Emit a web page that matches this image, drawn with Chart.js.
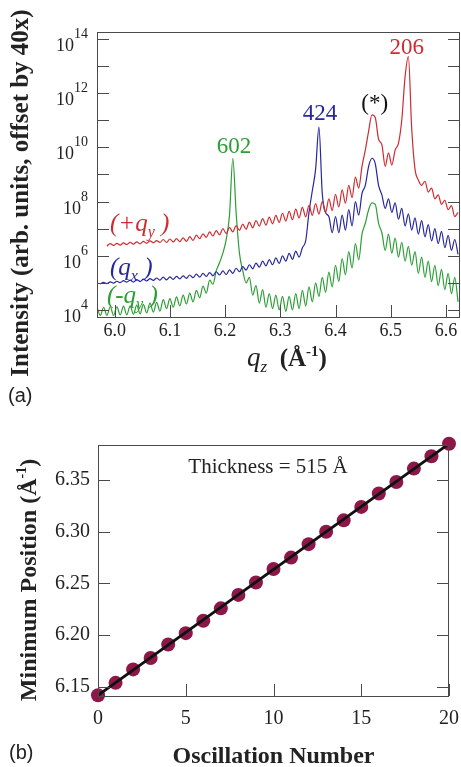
<!DOCTYPE html>
<html>
<head>
<meta charset="utf-8">
<script src="https://cdn.jsdelivr.net/npm/chart.js@4.4.0/dist/chart.umd.min.js"></script>
<style>
  html, body { margin: 0; padding: 0; background: #fff; }
  body { width: 461px; height: 767px; position: relative; overflow: hidden; }
  #boxA { position: absolute; left: 0; top: 0; }
  #boxB { position: absolute; left: 0; top: 400px; }
  .tag { position: absolute; font-family: "Liberation Sans", Arial, sans-serif; font-size: 20px; color: #222; line-height: 1; }
</style>
</head>
<body>
<canvas id="boxA" width="461" height="400"></canvas>
<canvas id="boxB" width="461" height="367"></canvas>
<div class="tag" style="left:8px;top:385px;">(a)</div>
<div class="tag" style="left:9px;top:742px;">(b)</div>
<script>
// ---- panel (a): qz grid and log10 intensities ----
const qz = [
  5.968, 5.974, 5.980, 5.986, 5.992, 5.998, 6.004, 6.010, 6.016, 6.022,
  6.028, 6.034, 6.040, 6.046, 6.052, 6.058, 6.064, 6.070, 6.076, 6.082,
  6.088, 6.094, 6.100, 6.106, 6.112, 6.118, 6.124, 6.130, 6.136, 6.142,
  6.148, 6.154, 6.160, 6.166, 6.172, 6.178, 6.184, 6.190, 6.196, 6.202,
  6.208, 6.214, 6.220, 6.226, 6.232, 6.238, 6.244, 6.250, 6.256, 6.262,
  6.268, 6.274, 6.280, 6.286, 6.292, 6.298, 6.304, 6.310, 6.316, 6.322,
  6.328, 6.334, 6.340, 6.346, 6.352, 6.358, 6.364, 6.370, 6.376, 6.382,
  6.388, 6.394, 6.400, 6.406, 6.412, 6.418, 6.424, 6.430, 6.436, 6.442,
  6.448, 6.454, 6.460, 6.466, 6.472, 6.478, 6.484, 6.490, 6.496, 6.502,
  6.508, 6.514, 6.520, 6.526, 6.532, 6.538, 6.544, 6.550, 6.556, 6.562,
  6.568, 6.574, 6.580, 6.586, 6.592, 6.598, 6.604, 6.610, 6.616, 6.622
];

// (+q_y), red
const plusQyLog = [
  null, null, null, 6.36, 6.45, 6.38, 6.46, 6.39, 6.48, 6.41,
  6.50, 6.43, 6.51, 6.44, 6.53, 6.46, 6.55, 6.48, 6.56, 6.49,
  6.60, 6.49, 6.62, 6.51, 6.63, 6.52, 6.66, 6.53, 6.71, 6.57,
  6.76, 6.63, 6.81, 6.68, 6.88, 6.73, 6.93, 6.77, 7.00, 6.82,
  7.05, 6.88, 7.11, 6.94, 7.17, 6.98, 7.24, 7.03, 7.30, 7.09,
  7.37, 7.13, 7.43, 7.18, 7.49, 7.23, 7.57, 7.28, 7.64, 7.33,
  7.72, 7.39, 7.79, 7.44, 7.86, 7.49, 7.93, 7.54, 8.00, 7.60,
  8.10, 7.67, 8.27, 7.80, 8.43, 7.94, 8.60, 8.15, 8.90, 8.50,
  9.30, 9.90, 10.60, 11.20, 11.10, 10.30, 10.10, 9.30, 9.80, 9.35,
  9.90, 10.15, 11.00, 12.60, 13.35, 10.70, 9.20, 8.80, 8.60, 8.75,
  8.35, 8.50, 8.10, 8.25, 7.90, 8.05, 7.70, 7.85, 7.45, 7.60
];

// (q_x), blue
const qxLog = [
  null, 4.96, 5.02, 4.97, 5.04, 4.99, 5.06, 5.01, 5.08, 5.03,
  5.10, 5.03, 5.12, 5.05, 5.14, 5.07, 5.16, 5.09, 5.18, 5.10,
  5.21, 5.11, 5.22, 5.13, 5.24, 5.15, 5.26, 5.17, 5.29, 5.19,
  5.32, 5.21, 5.35, 5.24, 5.38, 5.26, 5.41, 5.29, 5.44, 5.31,
  5.48, 5.35, 5.54, 5.41, 5.60, 5.47, 5.67, 5.52, 5.73, 5.58,
  5.80, 5.63, 5.86, 5.67, 5.92, 5.72, 6.00, 5.80, 6.09, 5.87,
  6.17, 5.95, 6.30, 6.55, 7.60, 8.40, 9.20, 10.75, 8.30, 7.60,
  7.45, 6.85, 7.45, 6.85, 7.50, 6.95, 7.70, 7.10, 8.00, 7.50,
  8.30, 8.60, 9.30, 9.60, 9.40, 8.60, 8.25, 7.75, 8.10, 7.60,
  7.95, 7.35, 7.75, 7.10, 7.55, 6.95, 7.40, 6.80, 7.30, 6.70,
  7.15, 6.55, 7.00, 6.45, 6.90, 6.30, 6.75, 6.20, 6.60, 6.05
];

// (-q_y), green
const minusQyLog = [
  4.10, 3.80, 4.10, 3.80, 4.12, 3.80, 4.12, 3.82, 4.14, 3.82,
  4.15, 3.84, 4.18, 3.86, 4.21, 3.89, 4.25, 3.92, 4.28, 3.96,
  4.38, 4.05, 4.42, 4.10, 4.48, 4.15, 4.55, 4.22, 4.62, 4.30,
  4.72, 4.45, 4.88, 4.62, 5.10, 4.95, 5.45, 5.75, 6.10, 6.60,
  7.50, 9.60, 7.60, 6.10, 5.45, 5.00, 5.20, 4.55, 4.90, 4.25,
  4.75, 4.10, 4.60, 4.05, 4.55, 4.00, 4.50, 3.95, 4.50, 4.00,
  4.60, 4.05, 4.72, 4.15, 4.85, 4.30, 5.00, 4.50, 5.20, 4.65,
  5.40, 4.85, 5.65, 5.05, 5.90, 5.30, 6.15, 5.55, 6.45, 5.85,
  6.80, 7.20, 7.70, 7.95, 7.90, 7.20, 6.85, 6.20, 6.80, 6.10,
  6.65, 5.95, 6.50, 5.80, 6.35, 5.65, 6.15, 5.35, 5.95, 5.20,
  5.80, 5.05, 5.65, 4.90, 5.50, 4.75, 5.35, 4.60, 5.20, 4.30
];

const decadeTicks = [4, 5, 6, 7, 8, 9, 10, 11, 12, 13, 14];
const labelledDecades = [4, 6, 8, 10, 12, 14];
const qzTicks = [6.0, 6.1, 6.2, 6.3, 6.4, 6.5, 6.6];

const peakNames = ["602", "424", "(*)", "206"];
const peakQ = [6.216, 6.372, 6.471, 6.529];
const peakLog = [9.79, 11.01, 11.38, 13.45];

const curveNames = ["+", "", "-"];
const curveSub = ["y", "x", "y"];
const curveNameQ = [5.9915, 5.9915, 5.986];
const curveNameLog = [6.915, 5.291, 4.258];

// ---- panel (b) ----
const oscNumber = [0, 1, 2, 3, 4, 5, 6, 7, 8, 9, 10, 11, 12, 13, 14, 15, 16, 17, 18, 19, 20];
const minPosition = [6.142, 6.154, 6.167, 6.178, 6.191, 6.202, 6.214, 6.226, 6.239, 6.251,
                     6.264, 6.275, 6.288, 6.300, 6.311, 6.324, 6.337, 6.348, 6.361, 6.373, 6.385];
const fitNumber = [0, 20];
const fitPosition = [6.142, 6.385];
const posTicks = [6.15, 6.20, 6.25, 6.30, 6.35];
const numTicks = [0, 5, 10, 15, 20];

const RED = "#cf2b31", BLUE = "#26279e", GREEN = "#2c9e35";
const curveColors = [RED, BLUE, GREEN];
const peakColors = [GREEN, BLUE, "#111", RED];
const AXIS = "#4a4a4a";
const SERIF = '"Liberation Serif", "Times New Roman", serif';

function toPoints(xs, logs) {
  return xs.map((x, i) => logs[i] == null ? null : { x: x, y: Math.pow(10, logs[i]) })
           .filter(p => p);
}

function drawRuns(ctx, runs, x, y, align) {
  let total = 0;
  runs.forEach(r => { ctx.font = r.font; r.w = ctx.measureText(r.text).width; total += r.w; });
  let cx = align === "center" ? x - total / 2 : (align === "right" ? x - total : x);
  ctx.textAlign = "left";
  runs.forEach(r => {
    ctx.font = r.font;
    ctx.fillText(r.text, cx, y + (r.dy || 0));
    cx += r.w;
  });
}

function frame(ctx, a) {
  ctx.save();
  ctx.strokeStyle = AXIS;
  ctx.lineWidth = 1;
  ctx.strokeRect(Math.round(a.left) + 0.5, Math.round(a.top) + 0.5,
                 Math.round(a.right - a.left) - 1, Math.round(a.bottom - a.top));
  ctx.restore();
}

const panelA = {
  id: "panelA",
  afterDraw(chart) {
    const ctx = chart.ctx, a = chart.chartArea;
    const xs = chart.scales.x, ys = chart.scales.y;
    frame(ctx, a);
    ctx.save();
    ctx.strokeStyle = AXIS;
    ctx.lineWidth = 1;
    ctx.beginPath();
    decadeTicks.forEach(d => {
      const y = Math.round(ys.getPixelForValue(Math.pow(10, d))) + 0.5;
      ctx.moveTo(a.left, y); ctx.lineTo(a.left + 12, y);
      ctx.moveTo(a.right - 12, y); ctx.lineTo(a.right, y);
    });
    qzTicks.forEach(q => {
      const x = Math.round(xs.getPixelForValue(q)) + 0.5;
      ctx.moveTo(x, a.bottom); ctx.lineTo(x, a.bottom - 12);
    });
    ctx.stroke();

    ctx.fillStyle = "#222";
    labelledDecades.forEach(d => {
      const y = ys.getPixelForValue(Math.pow(10, d));
      drawRuns(ctx, [
        { text: "10", font: "18px " + SERIF, dy: 12 },
        { text: String(d), font: "14px " + SERIF, dy: -1 }
      ], a.left - 9, y, "right");
    });
    ctx.font = "18px " + SERIF;
    ctx.textAlign = "center";
    ctx.textBaseline = "top";
    qzTicks.forEach(q => {
      ctx.fillText(q.toFixed(1), xs.getPixelForValue(q), a.bottom + 5);
    });
    ctx.textBaseline = "alphabetic";

    // axis titles
    drawRuns(ctx, [
      { text: "q", font: "italic 27px " + SERIF },
      { text: "z", font: "italic 17px " + SERIF, dy: 6 },
      { text: "  (Å", font: "bold 25px " + SERIF },
      { text: "-1", font: "bold 15px " + SERIF, dy: -10 },
      { text: ")", font: "bold 25px " + SERIF }
    ], 287, 366, "center");

    ctx.save();
    ctx.translate(22, 193);
    ctx.rotate(-Math.PI / 2);
    ctx.font = "bold 25px " + SERIF;
    ctx.textAlign = "center";
    ctx.textBaseline = "middle";
    ctx.fillText("Intensity (arb. units, offset by 40x)", 0, 0);
    ctx.restore();

    // peak labels
    peakNames.forEach((t, i) => {
      ctx.fillStyle = peakColors[i];
      ctx.font = "23px " + SERIF;
      ctx.textAlign = "center";
      ctx.fillText(t, xs.getPixelForValue(peakQ[i]), ys.getPixelForValue(Math.pow(10, peakLog[i])));
    });

    // curve labels
    curveNames.forEach((t, i) => {
      ctx.fillStyle = curveColors[i];
      drawRuns(ctx, [
        { text: "(" + t + "q", font: "italic 25px " + SERIF },
        { text: curveSub[i], font: "italic 16px " + SERIF, dy: 6 },
        { text: " )", font: "italic 25px " + SERIF }
      ], xs.getPixelForValue(curveNameQ[i]), ys.getPixelForValue(Math.pow(10, curveNameLog[i])), "left");
    });
    ctx.restore();
  }
};

const panelB = {
  id: "panelB",
  afterDraw(chart) {
    const ctx = chart.ctx, a = chart.chartArea;
    const xs = chart.scales.x, ys = chart.scales.y;
    frame(ctx, a);
    ctx.save();
    ctx.strokeStyle = AXIS;
    ctx.lineWidth = 1;
    ctx.beginPath();
    posTicks.forEach(v => {
      const y = Math.round(ys.getPixelForValue(v)) + 0.5;
      ctx.moveTo(a.left, y); ctx.lineTo(a.left + 12, y);
      ctx.moveTo(a.right - 12, y); ctx.lineTo(a.right, y);
    });
    numTicks.forEach(n => {
      const x = Math.round(xs.getPixelForValue(n)) + 0.5;
      ctx.moveTo(x, a.bottom); ctx.lineTo(x, a.bottom - 12);
    });
    ctx.stroke();

    ctx.fillStyle = "#222";
    ctx.font = "20px " + SERIF;
    ctx.textAlign = "right";
    ctx.textBaseline = "middle";
    posTicks.forEach(v => ctx.fillText(v.toFixed(2), a.left - 8, ys.getPixelForValue(v)));
    ctx.textAlign = "center";
    ctx.textBaseline = "top";
    numTicks.forEach(n => ctx.fillText(String(n), xs.getPixelForValue(n), a.bottom + 13));
    ctx.textBaseline = "alphabetic";

    ctx.font = "21px " + SERIF;
    ctx.fillText("Thickness = 515 Å", xs.getPixelForValue(9.69), ys.getPixelForValue(6.3568));

    ctx.font = "bold 24px " + SERIF;
    ctx.fillText("Oscillation Number", (a.left + a.right) / 2, a.bottom + 67);

    ctx.save();
    ctx.translate(28, 180);
    ctx.rotate(-Math.PI / 2);
    drawRuns(ctx, [
      { text: "Minimum Position (Å", font: "bold 24px " + SERIF },
      { text: "-1", font: "bold 14px " + SERIF, dy: -10 },
      { text: ")", font: "bold 24px " + SERIF }
    ], 0, 8, "center");
    ctx.restore();
    ctx.restore();
  }
};

const hidden = { grid: { display: false }, border: { display: false }, ticks: { display: false } };

new Chart(document.getElementById("boxA"), {
  type: "line",
  data: {
    datasets: [
      { data: toPoints(qz, plusQyLog), borderColor: RED },
      { data: toPoints(qz, qxLog), borderColor: BLUE },
      { data: toPoints(qz, minusQyLog), borderColor: GREEN }
    ]
  },
  options: {
    responsive: false,
    animation: false,
    devicePixelRatio: 1,
    layout: { padding: { top: 32, right: 1, left: 0, bottom: 0 } },
    plugins: { legend: { display: false }, tooltip: { enabled: false } },
    elements: {
      point: { radius: 0 },
      line: { borderWidth: 1.2, cubicInterpolationMode: "monotone", fill: false }
    },
    scales: {
      x: Object.assign({ type: "linear", min: 5.968, max: 6.6255,
        afterFit(s) { s.height = 83; } }, hidden),
      y: Object.assign({ type: "logarithmic", min: Math.pow(10, 3.741), max: Math.pow(10, 14.258),
        afterFit(s) { s.width = 97; } }, hidden)
    }
  },
  plugins: [panelA]
});

new Chart(document.getElementById("boxB"), {
  type: "line",
  data: {
    datasets: [
      {
        data: fitNumber.map((n, i) => ({ x: n, y: fitPosition[i] })),
        borderColor: "#111", borderWidth: 2.8, pointRadius: 0, order: 0
      },
      {
        data: oscNumber.map((n, i) => ({ x: n, y: minPosition[i] })),
        showLine: false, pointRadius: 7, pointBackgroundColor: "#8c1748",
        pointBorderWidth: 0, clip: false, order: 1
      }
    ]
  },
  options: {
    responsive: false,
    animation: false,
    devicePixelRatio: 1,
    layout: { padding: { top: 45, right: 12, left: 0, bottom: 0 } },
    plugins: { legend: { display: false }, tooltip: { enabled: false } },
    scales: {
      x: Object.assign({ type: "linear", min: 0, max: 20,
        afterFit(s) { s.height = 71; } }, hidden),
      y: Object.assign({ type: "linear", min: 6.1413, max: 6.3838,
        afterFit(s) { s.width = 98; } }, hidden)
    }
  },
  plugins: [panelB]
});
</script>
</body>
</html>
